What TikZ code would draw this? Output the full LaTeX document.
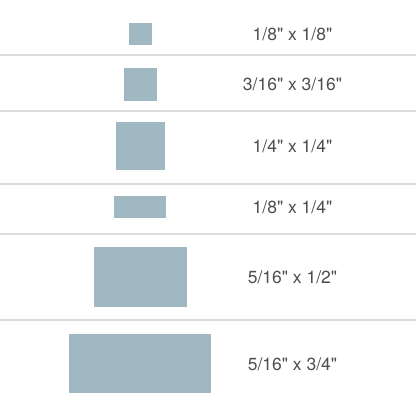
\documentclass[tikz,border=0pt]{standalone}
\usepackage{fontspec}
\setmainfont{TeX Gyre Heros}[Ligatures=TeXOff]
\usetikzlibrary{positioning}
\definecolor{tagblue}{HTML}{9FB8C2}
\definecolor{rulegray}{HTML}{DCDCDC}
\definecolor{textgray}{HTML}{4E4E4E}
\newcommand{\inch}{\char34\relax}
\tikzset{
	tag/.style={fill=tagblue, draw=none, inner sep=0pt},
	size/.style={text=textgray, font=\fontsize{17.5}{20}\selectfont, inner sep=0pt},
	rule/.style={draw=rulegray, line width=1.5pt}
}
\begin{document}
\begin{tikzpicture}[x=1pt, y=-1pt]
				\useasboundingbox[fill=white] (0,0) rectangle (416,416);

				\node[tag, minimum width=23pt, minimum height=22pt] (t1) at (140.5, 34) {};
				\node[size] (s1) at (292.5, 34) {1/8\inch{} x 1/8\inch};

				\draw[rule] (0, 55) -- (416, 55);

				\node[tag, minimum width=33pt, minimum height=33pt] (t2) at (140.5, 84.5) {};
				\node[size] (s2) at (292.5, 84.5) {3/16\inch{} x 3/16\inch};

				\draw[rule] (0, 111) -- (416, 111);

				\node[tag, minimum width=49pt, minimum height=48pt] (t3) at (140.5, 146) {};
				\node[size] (s3) at (292.5, 146) {1/4\inch{} x 1/4\inch};

				\draw[rule] (0, 184) -- (416, 184);

				\node[tag, minimum width=52pt, minimum height=22pt] (t4) at (140, 207) {};
				\node[size] (s4) at (292.5, 207) {1/8\inch{} x 1/4\inch};

				\draw[rule] (0, 234) -- (416, 234);

				\node[tag, minimum width=93pt, minimum height=60pt] (t5) at (140.5, 277) {};
				\node[size] (s5) at (292.5, 277) {5/16\inch{} x 1/2\inch};

				\draw[rule] (0, 320) -- (416, 320);

				\node[tag, minimum width=142pt, minimum height=59pt] (t6) at (140, 363.5) {};
				\node[size] (s6) at (292.5, 364) {5/16\inch{} x 3/4\inch};
			\end{tikzpicture}
\end{document}
